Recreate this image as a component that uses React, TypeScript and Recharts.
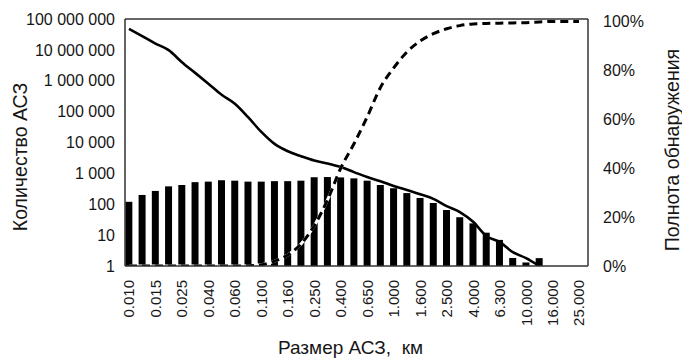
import React from 'react';
import { ComposedChart, Bar, Line, XAxis, YAxis, ReferenceLine } from 'recharts';

// size bins, km (every other one is labelled on the axis)
const sizes = [
  '0.010', '0.0125', '0.015', '0.020', '0.025', '0.032', '0.040', '0.050', '0.060', '0.080',
  '0.100', '0.125', '0.160', '0.200', '0.250', '0.320', '0.400', '0.500', '0.650', '0.800',
  '1.000', '1.250', '1.600', '2.000', '2.500', '3.200', '4.000', '5.000', '6.300', '8.000',
  '10.000', '12.500', '16.000', '20.000', '25.000',
];

// discovered objects per bin (bars)
const discovered = [
  120, 200, 270, 380, 420, 520, 540, 600, 580, 540,
  540, 560, 560, 580, 750, 760, 740, 690, 580, 420,
  330, 230, 160, 110, 65, 38, 24, 12, 7, 1.8,
  1.3, 1.8, null, null, null,
];

// estimated population (solid line)
const population = [
  4.8e7, 2.8e7, 1.6e7, 9.8e6, 4e6, 1.8e6, 8e5, 3.5e5, 1.8e5, 6.6e4,
  2.2e4, 9e3, 5.2e3, 3.6e3, 2.6e3, 2.1e3, 1.6e3, 1.1e3, 760, 560,
  390, 290, 210, 150, 87, 56, 27, 9.4, 6, 2.8,
  1.8, 1, null, null, null,
];

// completeness, % (dashed line, right axis)
const completeness = [
  0, 0, 0, 0, 0, 0, 0, 0, 0, 0.1,
  0.5, 2, 4.5, 9, 16.5, 27, 40, 50, 61, 73,
  81, 87.5, 92, 95, 97, 98.3, 99, 99.2, 99.3, 99.4,
  99.5, 99.8, 100, 100, 100,
];

const countTicks = [1, 10, 100, 1000, 10000, 100000, 1000000, 10000000, 100000000];
const percentTicks = [0, 20, 40, 60, 80, 100];

const data = sizes.map((s, i) => ({
  idx: i,
  size: s,
  found: discovered[i],
  total: population[i],
  full: completeness[i],
}));

const sizeTicks = sizes.map((_, i) => i).filter((i) => i % 2 === 0);

const fmtCount = (v: number) => String(Math.round(v)).replace(/\B(?=(\d{3})+(?!\d))/g, ' ');

const FONT = '"Liberation Sans", Arial, sans-serif';
const INK = '#161616';

const SizeTick = (props: any) => {
  const { x, y, payload } = props;
  return (
    <text
      x={x}
      y={y}
      transform={`rotate(-90, ${x}, ${y})`}
      textAnchor="end"
      dominantBaseline="central"
      fontFamily={FONT}
      fontSize={15}
      fill={INK}
    >
      {sizes[payload.value]}
    </text>
  );
};

// vertical axis title, centred on (cx, cy)
const sideTitle = (text: string, cx: number, cy: number) => () => (
  <text
    x={cx}
    y={cy}
    transform={`rotate(-90, ${cx}, ${cy})`}
    textAnchor="middle"
    dominantBaseline="central"
    fontFamily={FONT}
    fontSize={19.5}
    fill={INK}
  >
    {text}
  </text>
);

export default function App() {
  return (
    <div style={{ position: 'absolute', left: 0, top: 0, background: '#fff' }}>
      <ComposedChart
        width={682}
        height={358}
        data={data}
        margin={{ top: 19, right: 0, bottom: 0, left: 0 }}
      >
        <XAxis
          dataKey="idx"
          type="number"
          domain={[-0.3, 34.68]}
          allowDataOverflow
          ticks={sizeTicks}
          interval={0}
          tick={<SizeTick />}
          tickLine={false}
          tickSize={0}
          tickMargin={14}
          height={92}
          axisLine={{ stroke: '#333', strokeWidth: 1.5 }}
          label={{
            value: 'Размер АСЗ,\u00A0 км',
            position: 'insideBottom',
            offset: 4,
            dx: -6,
            fontFamily: FONT,
            fontSize: 19,
            fill: INK,
          }}
        />
        <YAxis
          yAxisId="count"
          scale="log"
          domain={[1, 100000000]}
          allowDataOverflow
          ticks={countTicks}
          interval={0}
          tickFormatter={fmtCount}
          tickLine={false}
          tickSize={0}
          tickMargin={10}
          width={125}
          axisLine={{ stroke: '#333', strokeWidth: 1.5 }}
          tick={{ fontFamily: FONT, fontSize: 16, fill: INK }}
          label={{ content: sideTitle('Количество АСЗ', 20, 157) }}
        />
        <YAxis
          yAxisId="pct"
          orientation="right"
          domain={[0, 101]}
          allowDataOverflow
          ticks={percentTicks}
          interval={0}
          tickFormatter={(v: number) => `${v}%`}
          tickLine={false}
          tickSize={0}
          tickMargin={15}
          width={94}
          axisLine={{ stroke: '#333', strokeWidth: 1.5 }}
          tick={{ fontFamily: FONT, fontSize: 16, fill: INK }}
          label={{ content: sideTitle('Полнота обнаружения', 672, 150) }}
        />
        <ReferenceLine yAxisId="count" y={100000000} stroke="#333" strokeWidth={1.5} />
        <Bar
          yAxisId="count"
          dataKey="found"
          fill="#000"
          barSize={7}
          isAnimationActive={false}
        />
        <Line
          yAxisId="count"
          dataKey="total"
          type="monotone"
          stroke="#000"
          strokeWidth={2.6}
          dot={false}
          isAnimationActive={false}
        />
        <Line
          yAxisId="pct"
          dataKey="full"
          type="monotone"
          stroke="#fff"
          strokeWidth={3}
          dot={false}
          isAnimationActive={false}
        />
        <Line
          yAxisId="pct"
          dataKey="full"
          type="monotone"
          stroke="#000"
          strokeWidth={3}
          strokeDasharray="8 5"
          dot={false}
          isAnimationActive={false}
        />
      </ComposedChart>
    </div>
  );
}
